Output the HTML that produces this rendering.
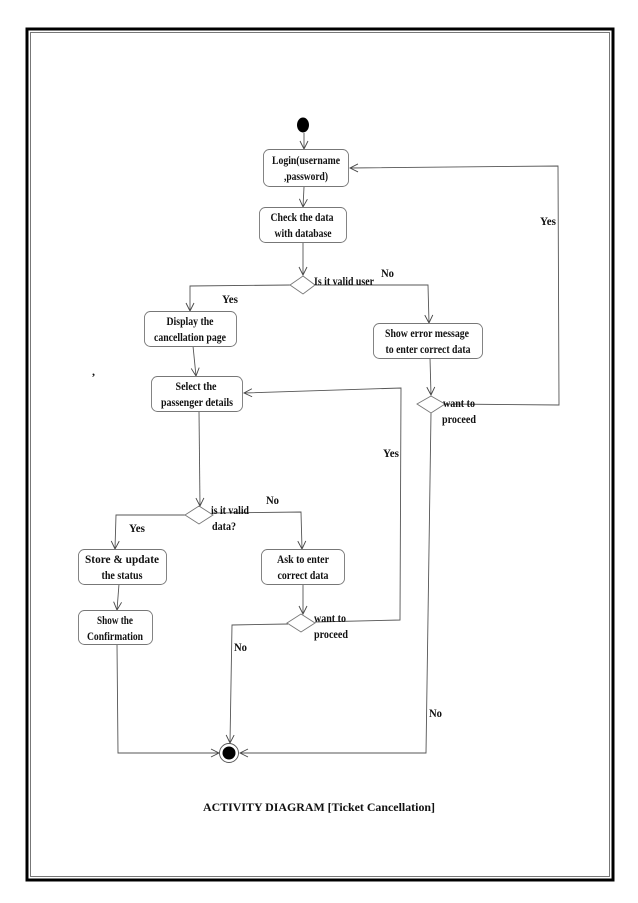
<!DOCTYPE html>
<html><head><meta charset="utf-8"><style>
html,body{margin:0;padding:0;background:#fff;}
svg{display:block;}
text{font-family:"Liberation Serif",serif;font-weight:bold;font-size:12px;fill:#111;}
</style></head><body>
<svg width="638" height="903" viewBox="0 0 638 903" xmlns="http://www.w3.org/2000/svg">
<defs>
<marker id="a" markerWidth="10" markerHeight="10" refX="9" refY="5" orient="auto" markerUnits="userSpaceOnUse">
<path d="M1,1 L9,5 L1,9" fill="none" stroke="#444" stroke-width="0.9"/>
</marker>
</defs>
<rect x="27" y="29" width="586" height="851" fill="none" stroke="#000" stroke-width="3"/>
<rect x="30.5" y="32.5" width="579" height="844" fill="none" stroke="#777" stroke-width="1"/>

<g fill="none" stroke="#555" stroke-width="0.9">
<path d="M304,133 L304,149" marker-end="url(#a)"/>
<path d="M304,187 L303,207" marker-end="url(#a)"/>
<path d="M303,242 L303,275" marker-end="url(#a)"/>
<path d="M291,285 L190,286 L190,311" marker-end="url(#a)"/>
<path d="M315,285 L428,285 L429,323" marker-end="url(#a)"/>
<path d="M193,346 L196,376" marker-end="url(#a)"/>
<path d="M430,358 L431,395" marker-end="url(#a)"/>
<path d="M445,404 L559,405 L558,166 L350,168" marker-end="url(#a)"/>
<path d="M431,413 L426,753 L240,753" marker-end="url(#a)"/>
<path d="M199,411 L200,506" marker-end="url(#a)"/>
<path d="M185,515 L116,515 L115,549" marker-end="url(#a)"/>
<path d="M213,513 L301,512 L302,549" marker-end="url(#a)"/>
<path d="M119,584 L117,610" marker-end="url(#a)"/>
<path d="M303,584 L303,614" marker-end="url(#a)"/>
<path d="M315,622 L400,620 L401,388 L244,393" marker-end="url(#a)"/>
<path d="M288,624 L232,625 L230,743" marker-end="url(#a)"/>
<path d="M117,644 L118,753 L219,753" marker-end="url(#a)"/>
</g>

<ellipse cx="303" cy="125" rx="6" ry="7.5" fill="#000"/>
<circle cx="229" cy="753" r="9.5" fill="#fff" stroke="#555" stroke-width="0.9"/>
<circle cx="229" cy="753" r="6.5" fill="#000"/>

<g fill="#fff" stroke="#777" stroke-width="0.9">
<rect x="263.5" y="149.5" width="85" height="37" rx="6"/>
<rect x="259.5" y="207.5" width="87" height="35" rx="6"/>
<rect x="144.5" y="311.5" width="92" height="35" rx="6"/>
<rect x="373.5" y="323.5" width="109" height="35" rx="6"/>
<rect x="151.5" y="376.5" width="91" height="35" rx="6"/>
<rect x="78.5" y="549.5" width="88" height="35" rx="6"/>
<rect x="261.5" y="549.5" width="83" height="35" rx="6"/>
<rect x="78.5" y="610.5" width="74" height="34" rx="6"/>
<polygon points="303,276 315,285 303,294 290,285"/>
<polygon points="431,396 445,404 431,413 417,404"/>
<polygon points="199,506 213,515 199,524 185,515"/>
<polygon points="301,614 315,623 301,632 287,623"/>
</g>

<g text-anchor="middle">
<text x="306" y="164" textLength="68" lengthAdjust="spacingAndGlyphs">Login(username</text>
<text x="306" y="180" textLength="44" lengthAdjust="spacingAndGlyphs">,password)</text>
<text x="302" y="221" textLength="63" lengthAdjust="spacingAndGlyphs">Check the data</text>
<text x="303" y="237" textLength="57" lengthAdjust="spacingAndGlyphs">with database</text>
<text x="190" y="325" textLength="47" lengthAdjust="spacingAndGlyphs">Display the</text>
<text x="190" y="341" textLength="72" lengthAdjust="spacingAndGlyphs">cancellation page</text>
<text x="427" y="337" textLength="84" lengthAdjust="spacingAndGlyphs">Show error message</text>
<text x="428" y="353" textLength="85" lengthAdjust="spacingAndGlyphs">to enter correct data</text>
<text x="196" y="390" textLength="41" lengthAdjust="spacingAndGlyphs">Select the</text>
<text x="197" y="406" textLength="72" lengthAdjust="spacingAndGlyphs">passenger details</text>
<text x="122" y="563" textLength="74" lengthAdjust="spacingAndGlyphs">Store &amp; update</text>
<text x="122" y="579" textLength="41" lengthAdjust="spacingAndGlyphs">the status</text>
<text x="303" y="563" textLength="52" lengthAdjust="spacingAndGlyphs">Ask to enter</text>
<text x="303" y="579" textLength="51" lengthAdjust="spacingAndGlyphs">correct data</text>
<text x="115" y="624" textLength="36" lengthAdjust="spacingAndGlyphs">Show the</text>
<text x="115" y="640" textLength="56" lengthAdjust="spacingAndGlyphs">Confirmation</text>
</g>

<text x="314" y="285" textLength="60" lengthAdjust="spacingAndGlyphs">Is it valid user</text>
<text x="381" y="277" textLength="13" lengthAdjust="spacingAndGlyphs">No</text>
<text x="222" y="303" textLength="16" lengthAdjust="spacingAndGlyphs">Yes</text>
<text x="540" y="225" textLength="16" lengthAdjust="spacingAndGlyphs">Yes</text>
<text x="443" y="407" textLength="32" lengthAdjust="spacingAndGlyphs">want to</text>
<text x="442" y="423" textLength="34" lengthAdjust="spacingAndGlyphs">proceed</text>
<text x="383" y="457" textLength="16" lengthAdjust="spacingAndGlyphs">Yes</text>
<text x="211" y="514" textLength="38" lengthAdjust="spacingAndGlyphs">is it valid</text>
<text x="212" y="530" textLength="24" lengthAdjust="spacingAndGlyphs">data?</text>
<text x="266" y="504" textLength="13" lengthAdjust="spacingAndGlyphs">No</text>
<text x="129" y="532" textLength="16" lengthAdjust="spacingAndGlyphs">Yes</text>
<text x="314" y="622" textLength="32" lengthAdjust="spacingAndGlyphs">want to</text>
<text x="314" y="638" textLength="34" lengthAdjust="spacingAndGlyphs">proceed</text>
<text x="234" y="651" textLength="13" lengthAdjust="spacingAndGlyphs">No</text>
<text x="429" y="717" textLength="13" lengthAdjust="spacingAndGlyphs">No</text>
<text x="92" y="375" font-size="6" font-weight="normal">,</text>

<text x="319" y="811" text-anchor="middle" font-size="11" textLength="232" lengthAdjust="spacingAndGlyphs">ACTIVITY DIAGRAM [Ticket Cancellation]</text>
</svg>
</body></html>
